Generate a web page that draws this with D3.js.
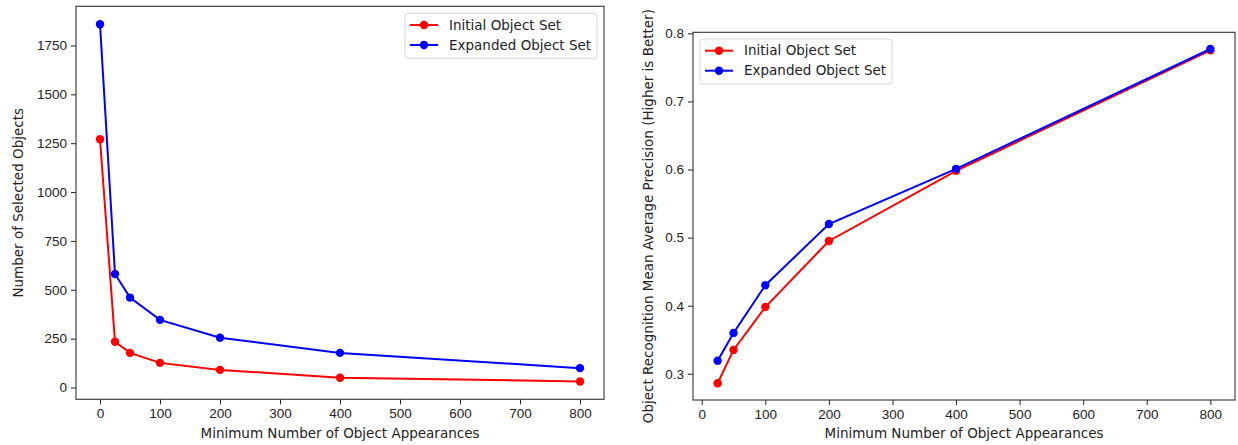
<!DOCTYPE html>
<html>
<head>
<meta charset="utf-8">
<script src="https://cdn.jsdelivr.net/npm/d3@7"></script>
<style>
  body { margin: 0; background: #fff; }
  svg { display: block; font-family: "DejaVu Sans", sans-serif; }
  .tick text { font-size: 13.5px; fill: #222; }
  .tick line { stroke: #222; }
</style>
</head>
<body>
<div id="chart"></div>
<script>
// Data
const seriesNames = ["Initial Object Set", "Expanded Object Set"];
const seriesColors = ["#ff0000", "#0000ff"];

const countThresholds = [0, 25, 50, 100, 200, 400, 800];
const initialCounts = [1270, 234, 177, 126, 90, 50, 31];
const expandedCounts = [1859, 581, 460, 346, 255, 177, 99];

const mapThresholds = [25, 50, 100, 200, 400, 800];
const initialMAP = [0.286, 0.335, 0.398, 0.495, 0.598, 0.775];
const expandedMAP = [0.319, 0.360, 0.430, 0.520, 0.601, 0.777];

const xTicks = [0, 100, 200, 300, 400, 500, 600, 700, 800];
const countTicks = [0, 250, 500, 750, 1000, 1250, 1500, 1750];
const mapTicks = [0.3, 0.4, 0.5, 0.6, 0.7, 0.8];

const width = 1238, height = 445;
const svg = d3.select("#chart")
    .append("svg")
    .attr("width", width)
    .attr("height", height);

// pad a domain by 5% on both sides like matplotlib does
function padded(values) {
    const [lo, hi] = d3.extent(values);
    const m = (hi - lo) * 0.05;
    return [lo - m, hi + m];
}

function drawPanel(opts) {
    const { left, right, top, bottom, xs, ys, xTickVals, yTickVals, yFormat, yLabel, yLabelX, legendPos } = opts;

    const x = d3.scaleLinear().domain(padded(xs)).range([left, right]);
    const y = d3.scaleLinear().domain(padded(ys.flat())).range([bottom, top]);

    const g = svg.append("g");

    // axes
    g.append("g")
        .attr("transform", `translate(0,${bottom})`)
        .call(d3.axisBottom(x).tickValues(xTickVals).tickSize(5).tickPadding(4).tickFormat(d3.format("d")))
        .call(a => a.select(".domain").remove());

    g.append("g")
        .attr("transform", `translate(${left},0)`)
        .call(d3.axisLeft(y).tickValues(yTickVals).tickSize(5).tickPadding(4).tickFormat(yFormat))
        .call(a => a.select(".domain").remove());

    // frame
    g.append("rect")
        .attr("x", left).attr("y", top)
        .attr("width", right - left).attr("height", bottom - top)
        .attr("fill", "none")
        .attr("stroke", "#333")
        .attr("stroke-width", 1.1);

    // lines and markers
    const line = d3.line().x(d => x(d[0])).y(d => y(d[1]));
    ys.forEach((vals, i) => {
        const pts = xs.map((v, j) => [v, vals[j]]);
        g.append("path")
            .datum(pts)
            .attr("d", line)
            .attr("fill", "none")
            .attr("stroke", seriesColors[i])
            .attr("stroke-width", 2);
        g.selectAll(null)
            .data(pts)
            .enter()
            .append("circle")
            .attr("cx", d => x(d[0]))
            .attr("cy", d => y(d[1]))
            .attr("r", 4.2)
            .attr("fill", seriesColors[i]);
    });

    // axis labels
    g.append("text")
        .attr("x", (left + right) / 2)
        .attr("y", 438)
        .attr("text-anchor", "middle")
        .attr("font-size", 13.5)
        .attr("fill", "#222")
        .text("Minimum Number of Object Appearances");

    g.append("text")
        .attr("transform", `translate(${yLabelX},${(top + bottom) / 2}) rotate(-90)`)
        .attr("text-anchor", "middle")
        .attr("dy", "0.35em")
        .attr("font-size", 13.5)
        .attr("fill", "#222")
        .text(yLabel);

    // legend
    const lg = g.append("g").attr("transform", `translate(${legendPos[0]},${legendPos[1]})`);
    lg.append("rect")
        .attr("width", 192).attr("height", 45)
        .attr("rx", 3)
        .attr("fill", "#fff")
        .attr("fill-opacity", 0.8)
        .attr("stroke", "#d5d5d5");
    seriesNames.forEach((name, i) => {
        const cy = 11.7 + i * 20;
        lg.append("line")
            .attr("x1", 5).attr("x2", 33)
            .attr("y1", cy).attr("y2", cy)
            .attr("stroke", seriesColors[i])
            .attr("stroke-width", 2);
        lg.append("circle")
            .attr("cx", 19).attr("cy", cy).attr("r", 4.2)
            .attr("fill", seriesColors[i]);
        lg.append("text")
            .attr("x", 44).attr("y", cy)
            .attr("dy", "0.35em")
            .attr("font-size", 13.5)
            .attr("fill", "#222")
            .text(name);
    });
}

drawPanel({
    left: 76, right: 604, top: 6.3, bottom: 399.3,
    xs: countThresholds,
    ys: [initialCounts, expandedCounts],
    xTickVals: xTicks,
    yTickVals: countTicks,
    yFormat: d3.format("d"),
    yLabel: "Number of Selected Objects",
    yLabelX: 18,
    legendPos: [405, 13.3]
});

drawPanel({
    left: 693, right: 1235, top: 32.3, bottom: 400,
    xs: mapThresholds,
    ys: [initialMAP, expandedMAP],
    xTickVals: xTicks,
    yTickVals: mapTicks,
    yFormat: d3.format(".1f"),
    yLabel: "Object Recognition Mean Average Precision (Higher is Better)",
    yLabelX: 648,
    legendPos: [700, 39]
});
</script>
</body>
</html>
